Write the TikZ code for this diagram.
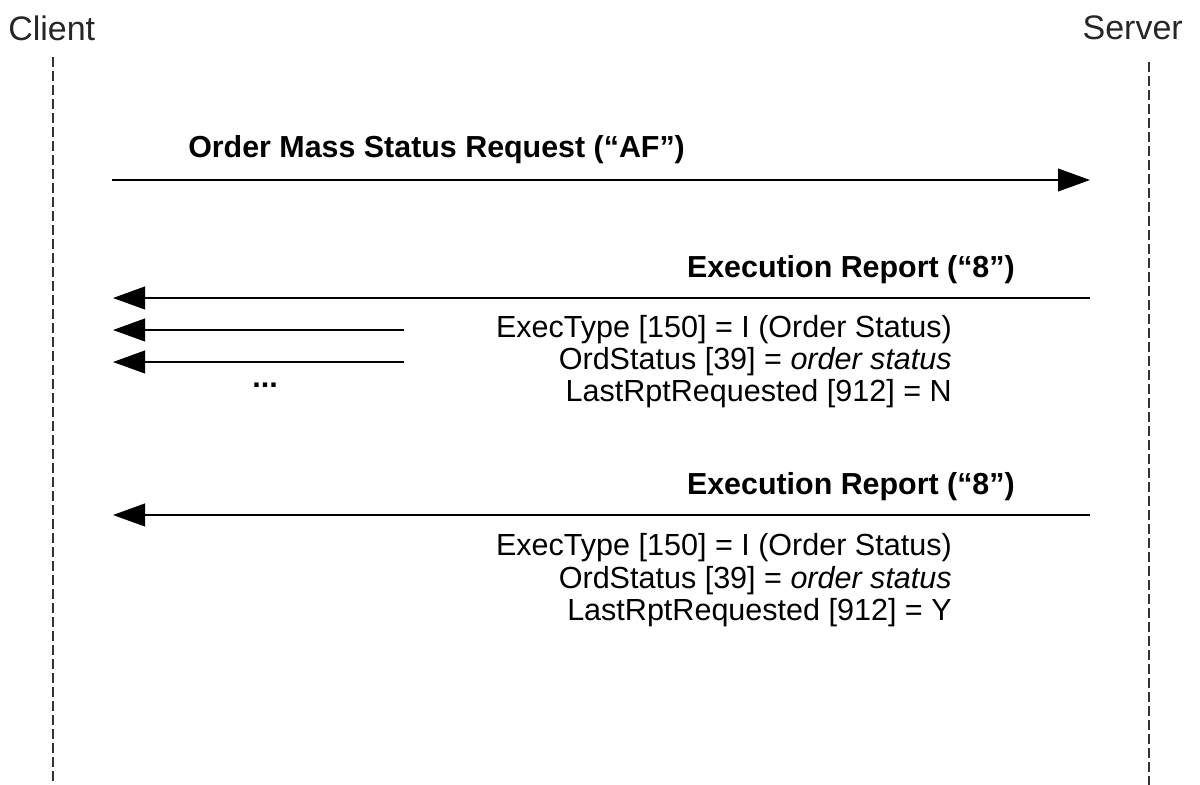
\documentclass[tikz,border=0pt]{standalone}
\usepackage{fontspec}
\setmainfont{Liberation Sans}
\usetikzlibrary{arrows.meta}
\begin{document}
\begin{tikzpicture}[x=0.75pt,y=-0.75pt,
  life/.style={line width=1.5pt,draw=black!80,dash pattern=on 7.5pt off 3pt},
  msg/.style={line width=1.5pt,-{Triangle[length=24pt,width=17pt]}},
  head/.style={font=\fontsize{25.5pt}{30pt}\selectfont,text=black!85,inner sep=0},
  lbl/.style={font=\bfseries\fontsize{22.8pt}{27pt}\selectfont,inner sep=0},
  fld/.style={font=\fontsize{22.9pt}{27pt}\selectfont,inner sep=0,anchor=east}]
\useasboundingbox (0,0) rectangle (1200,785);
\node[head,anchor=west] (client) at (8,28) {Client};
\node[head,anchor=east] (server) at (1183,28) {Server};
\coordinate (ctop) at (53,57);
\coordinate (cbot) at (53,785);
\coordinate (stop) at (1149,62);
\coordinate (sbot) at (1149,785);
\draw[life] (ctop) -- (cbot);
\draw[life] (stop) -- (sbot);
% request
\coordinate (a1s) at (112,180);
\coordinate (a1e) at (1090,180);
\draw[msg] (a1s) -- (a1e);
\node[lbl,anchor=west] (req) at (188,150) {Order Mass Status Request (“AF”)};
% first report
\coordinate (a2s) at (1090,298);
\coordinate (a2e) at (113,298);
\draw[msg] (a2s) -- (a2e);
\node[lbl,anchor=east] (er1) at (1015,270) {Execution Report (“8”)};
\coordinate (a3s) at (404,330);
\coordinate (a3e) at (113,330);
\draw[msg] (a3s) -- (a3e);
\coordinate (a4s) at (404,362);
\coordinate (a4e) at (113,362);
\draw[msg] (a4s) -- (a4e);
\node[font=\bfseries\fontsize{22.9pt}{27pt}\selectfont,inner sep=0] (dots) at (265,385) {...};
\node[fld] (f1) at (952,330) {ExecType [150] = I (Order Status)};
\node[fld] (f2) at (952,362) {OrdStatus [39] = \textit{order status}};
\node[fld] (f3) at (952,394) {LastRptRequested [912] = N};
% last report
\coordinate (a5s) at (1090,515);
\coordinate (a5e) at (113,515);
\draw[msg] (a5s) -- (a5e);
\node[lbl,anchor=east] (er2) at (1015,487) {Execution Report (“8”)};
\node[fld] (g1) at (952,548) {ExecType [150] = I (Order Status)};
\node[fld] (g2) at (952,581) {OrdStatus [39] = \textit{order status}};
\node[fld] (g3) at (952,613) {LastRptRequested [912] = Y};
\end{tikzpicture}
\end{document}
